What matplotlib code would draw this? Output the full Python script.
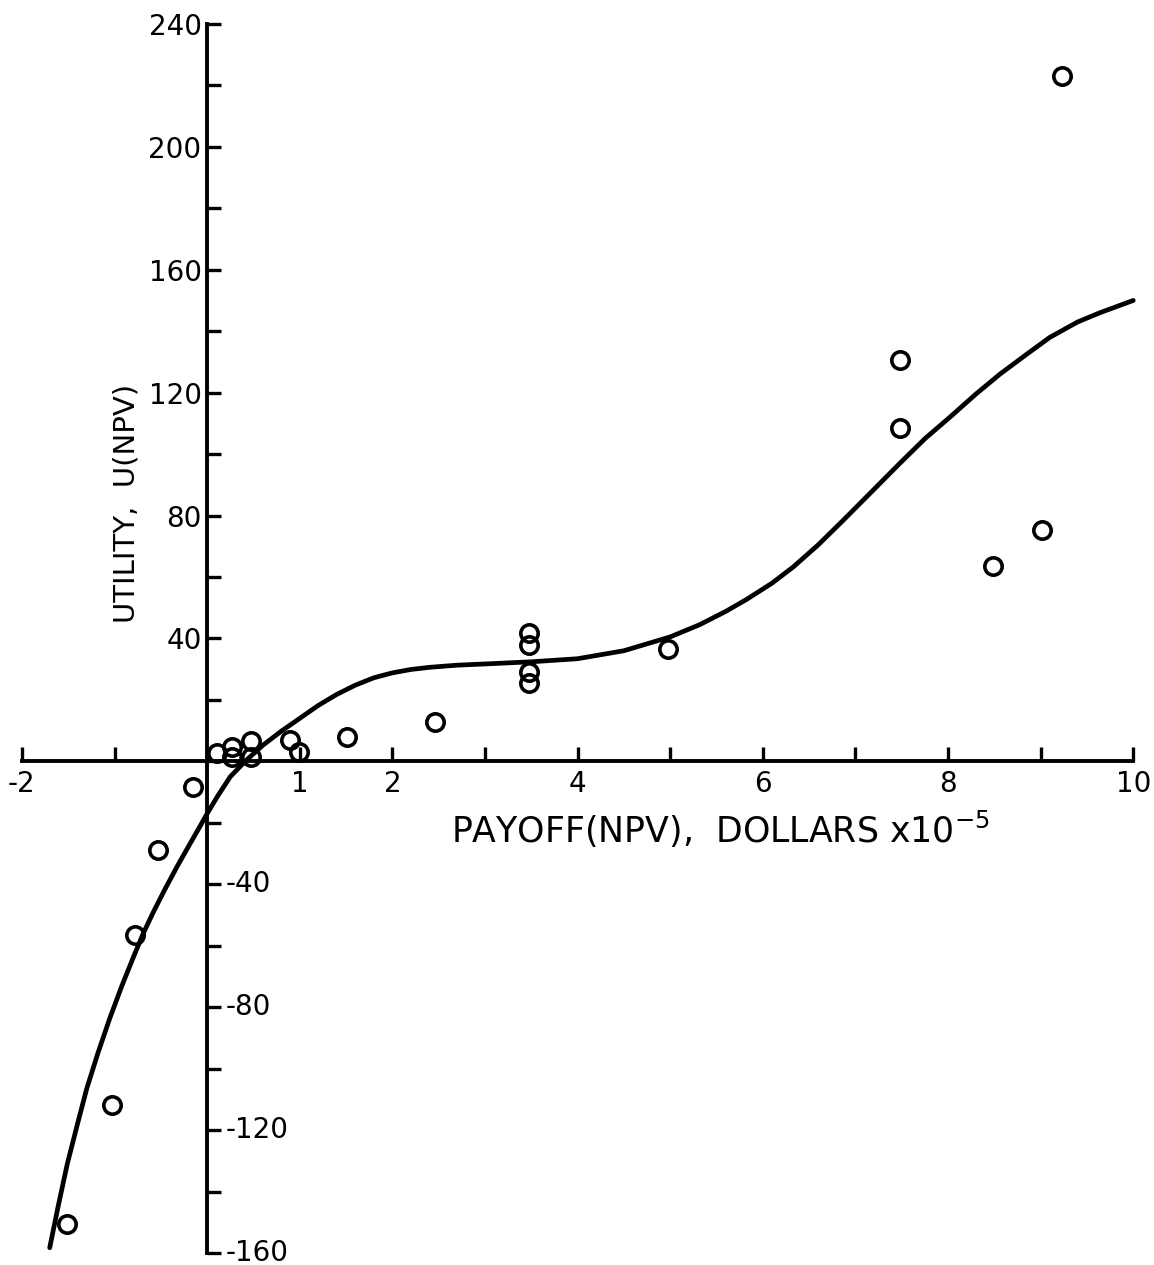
import matplotlib.pyplot as plt

# observed payoff / utility pairs (payoff in units of 1e5 dollars)
payoff = [9.23, 7.48, 7.48, 8.49, 9.01, 4.98, 3.48, 3.48, 3.48, 3.48,
          2.46, 1.51, 0.89, 0.99, 0.11, 0.27, 0.27, 0.47, 0.47,
          -0.15, -0.53, -0.78, -1.03, -1.51]
utility = [223, 130.5, 108.5, 63.5, 75.2, 36.5, 41.7, 37.8, 29, 25.4,
           12.7, 7.8, 6.8, 3, 2.6, 4.6, 1.5, 6.5, 1.5,
           -8.5, -29, -56.4, -112, -150.5]

# fitted utility curve
curve_x = [-1.70, -1.61, -1.51, -1.40, -1.30, -1.18, -1.05, -0.92, -0.80, -0.69,
           -0.58, -0.45, -0.32, -0.20, -0.08, 0.0, 0.12, 0.25, 0.41, 0.6,
           0.8, 1.0, 1.2, 1.4, 1.6, 1.8, 2.0, 2.2, 2.4, 2.7,
           3.0, 3.5, 4.0, 4.5, 5.0, 5.32, 5.6, 5.83, 6.1, 6.33,
           6.6, 6.87, 7.2, 7.48, 7.75, 8.02, 8.3, 8.56, 8.85, 9.10,
           9.4, 9.64, 10.0]
curve_y = [-158.3, -145, -131, -118, -106.5, -95, -83.5, -73, -64, -56,
           -49, -41.3, -34, -27.6, -21.3, -17, -11, -5, 0, 5.2,
           9.8, 14, 18.2, 21.8, 24.8, 27.2, 28.8, 29.9, 30.6, 31.3,
           31.7, 32.4, 33.4, 36, 40.5, 44.5, 48.8, 52.8, 58, 63.3,
           70.5, 78.5, 88.5, 97, 105, 112, 119.5, 126, 132.5, 138,
           143, 146, 150]

x_ticks = list(range(-2, 11))
x_labels = ['-2', '', '', '1', '2', '', '4', '', '6', '', '8', '', '10']
y_pos_labels = [40, 80, 120, 160, 200, 240]
y_neg_labels = [-40, -80, -120, -160]

fig = plt.figure(figsize=(11.54, 12.65), dpi=100)
ax = fig.add_axes([0.019, 0.0095, 0.963, 0.9716])

ax.plot(curve_x, curve_y, color='black', lw=3.4, solid_capstyle='round',
        solid_joinstyle='round', clip_on=False)
ax.plot(payoff, utility, 'o', ms=12.5, mfc='none', mec='black', mew=2.6, clip_on=False)

ax.set_xlim(-2, 10)
ax.set_ylim(-160, 240)

for side in ['top', 'right']:
    ax.spines[side].set_visible(False)
ax.spines['left'].set_position(('data', 0))
ax.spines['bottom'].set_position(('data', 0))
for side in ['left', 'bottom']:
    ax.spines[side].set_linewidth(2.8)

ax.set_xticks(x_ticks)
ax.set_xticklabels(x_labels)
ax.set_yticks(range(-160, 241, 20))
ax.set_yticklabels([str(v) if v in y_pos_labels else '' for v in range(-160, 241, 20)])
ax.tick_params(axis='both', direction='in', length=10, width=2.4, labelsize=20)
ax.tick_params(axis='x', pad=6)
ax.tick_params(axis='y', pad=4)

# negative utility labels sit on the right side of the axis
for v in y_neg_labels:
    ax.annotate(str(v), xy=(0, v), xytext=(13, 0), textcoords='offset points',
                ha='left', va='center', fontsize=20)

ax.text(5.54, -22, r'PAYOFF(NPV),  DOLLARS x10$^{-5}$', fontsize=25,
        ha='center', va='center')
ax.text(-0.875, 84, 'UTILITY,  U(NPV)', fontsize=21, rotation=90,
        ha='center', va='center')

fig.savefig('out.png', dpi=100)
